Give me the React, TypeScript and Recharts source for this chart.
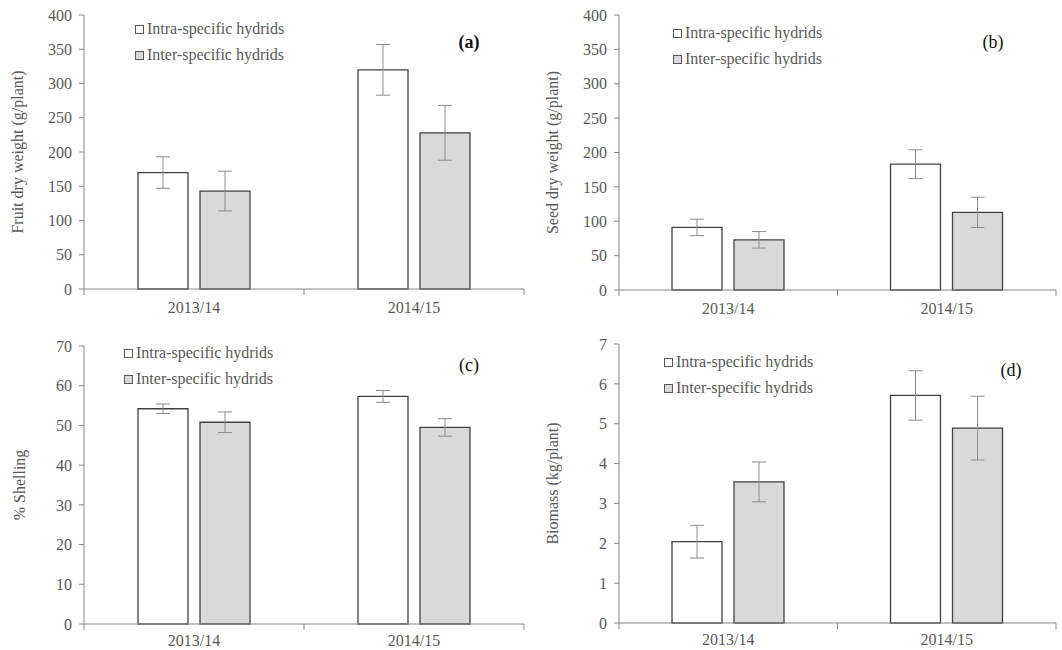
import { BarChart, Bar, XAxis, YAxis, ErrorBar, Legend, Label } from 'recharts'

const seasons = ['2013/14', '2014/15']

// (a) fruit dry weight, g/plant
const fruitIntra    = [170, 320]
const fruitIntraErr = [23, 37]
const fruitInter    = [143, 228]
const fruitInterErr = [29, 40]

// (b) seed dry weight, g/plant
const seedIntra    = [91, 183]
const seedIntraErr = [12, 21]
const seedInter    = [73, 113]
const seedInterErr = [12, 22]

// (c) % shelling
const shellIntra    = [54.2, 57.3]
const shellIntraErr = [1.2, 1.5]
const shellInter    = [50.8, 49.5]
const shellInterErr = [2.6, 2.2]

// (d) biomass, kg/plant
const bioIntra    = [2.04, 5.71]
const bioIntraErr = [0.41, 0.62]
const bioInter    = [3.54, 4.89]
const bioInterErr = [0.5, 0.8]

const weightTicks = [0, 50, 100, 150, 200, 250, 300, 350, 400]
const shellTicks  = [0, 10, 20, 30, 40, 50, 60, 70]
const bioTicks    = [0, 1, 2, 3, 4, 5, 6, 7]

const INTRA = 'Intra-specific hydrids'
const INTER = 'Inter-specific hydrids'
const legendOrder = [INTRA, INTER]

const FONT = '"Liberation Serif", "Times New Roman", serif'
const TEXT = '#595959'
const AXIS = '#868686'
const EDGE = '#404040'

const rows = (intra: number[], intraErr: number[], inter: number[], interErr: number[]) =>
  seasons.map((s, i) => ({
    season:   s,
    intra:    intra[i],
    intraErr: intraErr[i],
    inter:    inter[i],
    interErr: interErr[i],
  }))

// category labels plus Excel-style tick marks between the categories
const SeasonTick = (props: any) => {
  const { x, y, payload, index, width, labelDy } = props
  const off = payload.offset ?? width / (2 * seasons.length)
  const axisY = y - 12
  return (
    <g>
      <line x1={x - off} x2={x - off} y1={axisY} y2={axisY + 6} stroke={AXIS} />
      {index === seasons.length - 1 && (
        <line x1={x + off} x2={x + off} y1={axisY} y2={axisY + 6} stroke={AXIS} />
      )}
      <text x={x} y={axisY + labelDy} textAnchor="middle" fill={TEXT} fontSize={16} fontFamily={FONT}>
        {payload.value}
      </text>
    </g>
  )
}

const LegendBox = ({ payload, top, left }: any) => {
  const items = [...(payload ?? [])].sort(
    (a: any, b: any) => legendOrder.indexOf(a.value) - legendOrder.indexOf(b.value)
  )
  return (
    <div style={{ position: 'absolute', top, left, fontFamily: FONT, fontSize: 16, color: TEXT }}>
      {items.map((p: any) => (
        <div key={p.value} style={{ display: 'flex', alignItems: 'center', height: 26 }}>
          <span style={{
            width: 7, height: 7, background: p.color, border: '1px solid #595959',
            marginRight: 3, display: 'inline-block',
          }} />
          <span style={{ whiteSpace: 'nowrap' }}>{p.value}</span>
        </div>
      ))}
    </div>
  )
}

type PanelProps = {
  left: number; top: number; width: number; height: number
  marginTop: number; yWidth: number; xHeight: number; labelDy: number
  data: any[]; ticks: number[]; yLabel: string; yLabelX: number
  legendTop: number; legendLeft: number
  tag: string; tagX: number; tagY: number; tagBold?: boolean
}

function Panel(p: PanelProps) {
  const max = p.ticks[p.ticks.length - 1]
  return (
    <div style={{ position: 'absolute', left: p.left, top: p.top, width: p.width, height: p.height }}>
      <BarChart
        width={p.width}
        height={p.height}
        data={p.data}
        margin={{ top: p.marginTop, right: 6, left: 0, bottom: 0 }}
        barSize={50}
        barGap={12}
      >
        <XAxis
          dataKey="season"
          height={p.xHeight}
          axisLine={{ stroke: AXIS }}
          tickLine={false}
          tickSize={6}
          tickMargin={6}
          tick={<SeasonTick labelDy={p.labelDy} />}
        />
        <YAxis
          width={p.yWidth}
          domain={[0, max]}
          ticks={p.ticks}
          interval={0}
          axisLine={{ stroke: AXIS }}
          tickLine={{ stroke: AXIS }}
          tickSize={5}
          tickMargin={7}
          tick={{ fill: TEXT, fontSize: 16, fontFamily: FONT }}
        >
          <Label
            content={({ viewBox }: any) => (
              <text
                transform={`translate(${p.yLabelX},${viewBox.y + viewBox.height / 2}) rotate(-90)`}
                textAnchor="middle"
                dominantBaseline="central"
                fill={TEXT}
                fontSize={16}
                fontFamily={FONT}
              >
                {p.yLabel}
              </text>
            )}
          />
        </YAxis>
        <Legend
          layout="horizontal"
          verticalAlign="middle"
          align="center"
          wrapperStyle={{ top: 0, left: 0, width: p.width, height: 0 }}
          content={(props: any) => <LegendBox payload={props.payload} top={p.legendTop} left={p.legendLeft} />}
        />
        <Bar dataKey="intra" name={INTRA} fill="#ffffff" stroke={EDGE} strokeWidth={1.3} isAnimationActive={false}>
          <ErrorBar dataKey="intraErr" width={7} stroke="#8c8c8c" strokeWidth={1} />
        </Bar>
        <Bar dataKey="inter" name={INTER} fill="#d9d9d9" stroke={EDGE} strokeWidth={1.3} isAnimationActive={false}>
          <ErrorBar dataKey="interErr" width={7} stroke="#8c8c8c" strokeWidth={1} />
        </Bar>
      </BarChart>
      <div style={{
        position: 'absolute', left: p.tagX, top: p.tagY, transform: 'translate(-50%, -50%)',
        fontFamily: FONT, fontSize: 18, color: '#111', fontWeight: p.tagBold ? 'bold' : 'normal',
      }}>
        {p.tag}
      </div>
    </div>
  )
}

export default function App() {
  return (
    <div style={{ position: 'absolute', left: 0, top: 0, width: 1062, height: 650, background: '#fff' }}>
      <Panel left={0} top={0} width={530} height={320} marginTop={15} yWidth={84} xHeight={31} labelDy={24}
        data={rows(fruitIntra, fruitIntraErr, fruitInter, fruitInterErr)} ticks={weightTicks}
        yLabel="Fruit dry weight (g/plant)" yLabelX={17}
        legendTop={16} legendLeft={135} tag="(a)" tagX={469} tagY={42} tagBold />
      <Panel left={530} top={0} width={532} height={321} marginTop={15} yWidth={89} xHeight={31} labelDy={24}
        data={rows(seedIntra, seedIntraErr, seedInter, seedInterErr)} ticks={weightTicks}
        yLabel="Seed dry weight (g/plant)" yLabelX={22}
        legendTop={20} legendLeft={143} tag="(b)" tagX={463} tagY={42} />
      <Panel left={0} top={310} width={530} height={340} marginTop={36} yWidth={84} xHeight={26} labelDy={22}
        data={rows(shellIntra, shellIntraErr, shellInter, shellInterErr)} ticks={shellTicks}
        yLabel="% Shelling" yLabelX={19}
        legendTop={30} legendLeft={124} tag="(c)" tagX={469} tagY={55} />
      <Panel left={530} top={310} width={532} height={340} marginTop={34} yWidth={89} xHeight={27} labelDy={22}
        data={rows(bioIntra, bioIntraErr, bioInter, bioInterErr)} ticks={bioTicks}
        yLabel="Biomass (kg/plant)" yLabelX={22}
        legendTop={39} legendLeft={134} tag="(d)" tagX={481} tagY={60} />
    </div>
  )
}
